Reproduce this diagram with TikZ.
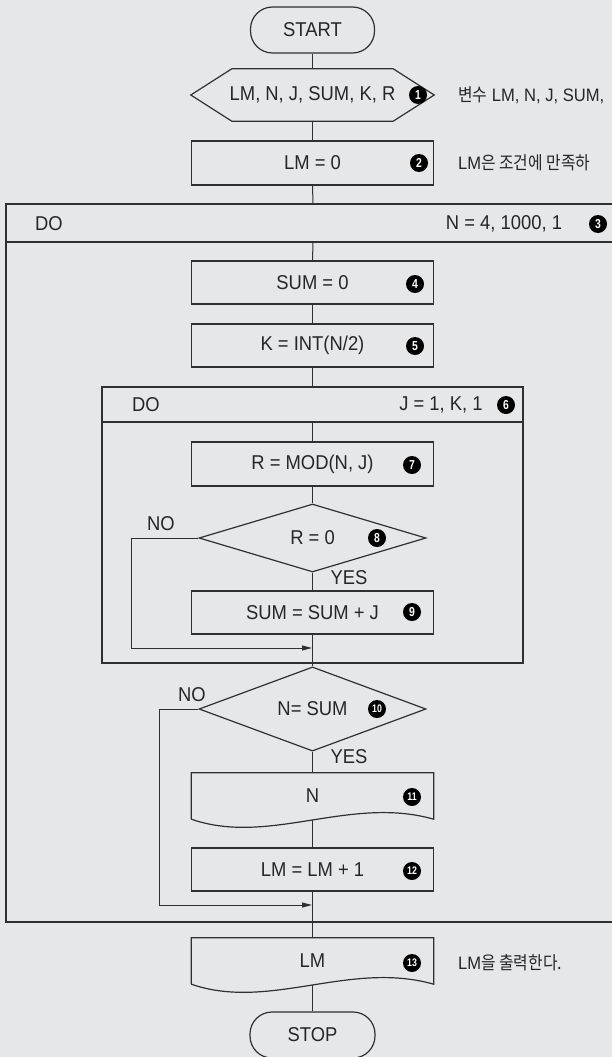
\documentclass[tikz,border=0pt]{standalone}
\usepackage{fontspec}
\setmainfont{Liberation Sans}[FakeStretch=0.92]
\newfontfamily\kr{Noto Sans CJK KR}[FakeStretch=0.88]
\newfontfamily\bulfont{Liberation Sans}[FakeStretch=0.8]
\usetikzlibrary{shapes.geometric,arrows.meta,calc}
\definecolor{bg}{RGB}{230,231,233}
\definecolor{ink}{RGB}{38,38,38}
\definecolor{linec}{RGB}{48,48,48}
\tikzset{
  boxline/.style={draw=linec, line width=1.2pt},
  proc/.style={boxline, rectangle, minimum width=242pt, minimum height=44pt, inner sep=0pt, text=ink},
  term/.style={boxline, rectangle, rounded corners=22pt, minimum width=124pt, minimum height=46pt, inner sep=0pt, text=ink},
  dec/.style={boxline, diamond, minimum width=227pt, minimum height=68pt, inner sep=0pt, text=ink},
  ghost/.style={rectangle, inner sep=0pt, text=ink},
  loopbox/.style={draw=linec, line width=1.4pt, rectangle, inner sep=0pt},
  lbl/.style={inner sep=0pt, text=ink},
  note/.style={inner sep=0pt, text=ink, anchor=west, font=\fontsize{18}{22}\selectfont},
  bul/.style={circle, fill=black, text=white, minimum size=18pt, inner sep=0pt, font=\bulfont\bfseries\fontsize{13}{13}\selectfont},
  bulw/.style={bul, font=\bulfont\bfseries\fontsize{11}{11}\selectfont},
  conn/.style={draw=linec, line width=1pt},
  arr/.style={conn, -{Triangle[length=10pt,width=5pt]}},
}
\begin{document}
\begin{tikzpicture}[x=1pt,y=-1pt, font=\fontsize{20}{24}\selectfont]
\useasboundingbox (0,0) rectangle (612,1057);
\fill[bg] (0,0) rectangle (612,1057);
\clip (0,0) rectangle (612,1057);

% loop boxes
\node[loopbox, minimum width=614pt, minimum height=38pt] (odo) at (313,223) {};
\node[loopbox, minimum width=614pt, minimum height=680pt] (obody) at (313,582) {};
\node[loopbox, minimum width=421pt, minimum height=35pt] (ido) at (312.5,404.5) {};
\node[loopbox, minimum width=421pt, minimum height=241pt] (ibody) at (312.5,542.5) {};

\node[lbl] (odotxt) at (49,224) {DO};
\node[lbl] (orange) at (504,224) {N = 4, 1000, 1};
\node[bul] (b3) at (598,224) {3};
\node[lbl] (idotxt) at (146,405) {DO};
\node[lbl] (irange) at (441,405) {J = 1, K, 1};
\node[bul] (b6) at (506,405) {6};

% main nodes
\node[term] (start) at (312.5,30) {START};
\node[ghost, minimum width=243pt, minimum height=52pt] (hex) at (312.5,95) {LM, N, J, SUM, K, R};
\draw[boxline] (hex.west) -- ($(hex.north west)+(41,0)$) -- ($(hex.north east)+(-41,0)$) -- (hex.east)
   -- ($(hex.south east)+(-41,0)$) -- ($(hex.south west)+(41,0)$) -- cycle;
\node[bul] (b1) at (418,95) {1};

\node[proc, minimum height=44pt] (lm0) at (312.5,163) {LM = 0};
\node[bul] (b2) at (419,163) {2};

\node[proc, minimum height=43pt] (sum0) at (312.5,282.5) {SUM = 0};
\node[bul] (b4) at (415,284) {4};
\node[proc, minimum height=43pt] (kint) at (312.5,345.5) {K = INT(N/2)};
\node[bul] (b5) at (415,346) {5};

\node[proc] (rmod) at (312.5,464) {R = MOD(N, J)};
\node[bul] (b7) at (412,465) {7};
\node[dec] (d1) at (312.5,538) {R = 0};
\node[bul] (b8) at (377,538) {8};
\node[proc, minimum height=43pt] (sumj) at (312.5,612.5) {SUM = SUM + J};
\node[bul] (b9) at (412,612) {9};
\node[lbl] (no1) at (161,524) {NO};
\node[lbl] (yes1) at (349,578) {YES};

\node[dec] (d2) at (312.5,709) {N= SUM};
\node[bulw] (b10) at (377,709) {10};
\node[lbl] (no2) at (192,695) {NO};
\node[lbl] (yes2) at (349,757) {YES};

\node[ghost, minimum width=242pt, minimum height=46pt] (n11) at (312.5,796) {N};
\draw[boxline] (n11.south west) -- (n11.north west) -- (n11.north east) -- (n11.south east)
   .. controls +(-84,-24) and +(78,27) .. (n11.south west) node[pos=0.5, coordinate] (n11b) {};
\node[bulw] (b11) at (412,797) {11};

\node[proc, minimum height=43pt] (lm1) at (312.5,869.5) {LM = LM + 1};
\node[bulw] (b12) at (412,871) {12};

\node[ghost, minimum width=242pt, minimum height=46pt] (lmout) at (312.5,961) {LM};
\draw[boxline] (lmout.south west) -- (lmout.north west) -- (lmout.north east) -- (lmout.south east)
   .. controls +(-84,-24) and +(78,27) .. (lmout.south west) node[pos=0.5, coordinate] (lmb) {};
\node[bulw] (b13) at (412,963) {13};

\node[term, minimum width=125pt] (stop) at (312.5,1035) {STOP};

% side notes
\node[note] (note1) at (458,95) {{\kr 변수} LM, N, J, SUM,};
\node[note] (note2) at (458,163) {LM{\kr 은 조건에 만족하}};
\node[note] (note3) at (458,963) {LM{\kr 을 출력한다.}};

% connectors
\draw[conn] (start.south) -- (hex.north);
\draw[conn] (hex.south) -- (lm0.north);
\draw[conn] (lm0.south) -- (odo.north);
\draw[conn] (odo.south) -- (sum0.north);
\draw[conn] (sum0.south) -- (kint.north);
\draw[conn] (kint.south) -- (ido.north);
\draw[conn] (ido.south) -- (rmod.north);
\draw[conn] (rmod.south) -- (d1.north);
\draw[conn] (d1.south) -- (sumj.north);
\draw[conn] (sumj.south) -- (d2.north);
\draw[conn] (d2.south) -- (n11.north);
\draw[conn] (n11.center |- n11b) -- (lm1.north);
\draw[conn] (lm1.south) -- (lmout.north);
\draw[conn] (lmout.center |- lmb) -- (stop.north);

\coordinate (c1) at (131,648);
\coordinate (j1) at (312,648);
\coordinate (c2) at (159,905);
\coordinate (j2) at (312,905);
\draw[arr] (d1.west) -| (c1) -- (j1);
\draw[arr] (d2.west) -| (c2) -- (j2);
\end{tikzpicture}
\end{document}
